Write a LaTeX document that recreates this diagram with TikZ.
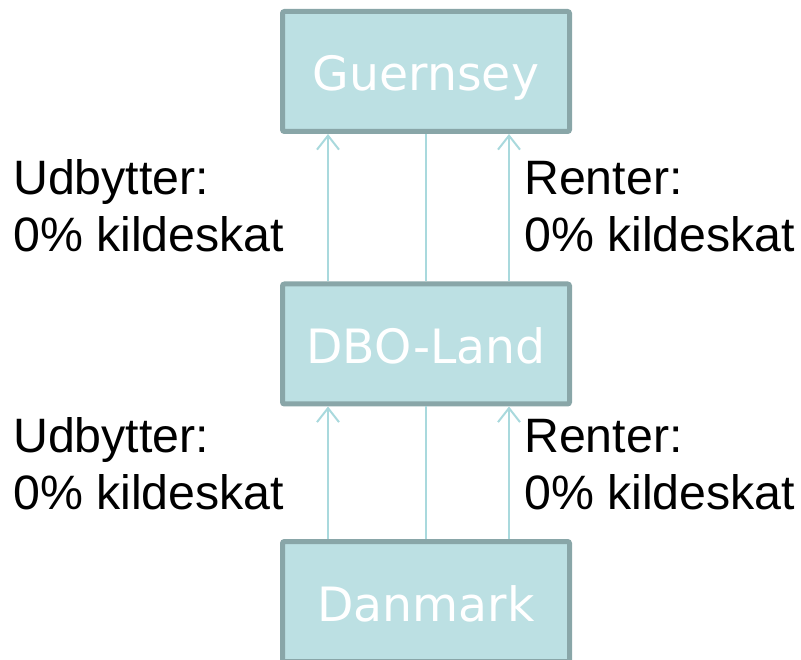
\documentclass[tikz,border=0pt]{standalone}
\usepackage{fontspec}
\setmainfont{Liberation Sans}
\newfontfamily\boxfont{DejaVu Sans}
\usepackage{tikz}
\usetikzlibrary{arrows.meta}

\definecolor{boxfill}{HTML}{BCE0E3}
\definecolor{boxline}{HTML}{89A6A8}
\definecolor{flowline}{HTML}{A9D9DD}

\begin{document}
\begin{tikzpicture}[x=1pt,y=-1pt]
    \tikzstyle{land}=[rectangle,rounded corners=2pt,fill=boxfill,draw=boxline,line width=5pt,minimum width=287pt,minimum height=120pt,inner sep=0pt,text height=44pt,text depth=5pt,text=white,font=\boxfont\fontsize{47.3}{56}\selectfont]
    \tikzstyle{flow}=[draw=flowline,line width=2pt]
    \tikzstyle{annot}=[align=left,inner sep=0pt,anchor=base west,font=\fontsize{48.3}{57}\selectfont]

    \useasboundingbox (0,0) rectangle (801,660);

    % Draw the countries
    \node[land] (G) at (426,71.5) {Guernsey};
    \node[land] (DBO) at (426,344) {DBO-Land};
    \node[land] (DK) at (426,601.5) {Danmark};

    % Connect each country with the one above it
    \foreach \source / \dest in {DK/DBO,DBO/G}
    {
        \path[flow,-{Straight Barb[length=14pt,width=22pt]}] ([xshift=-98pt]\source.north) -- ([xshift=-98pt]\dest.south);
        \path[flow] (\source.north) -- (\dest.south);
        \path[flow,-{Straight Barb[length=14pt,width=22pt]}] ([xshift=83pt]\source.north) -- ([xshift=83pt]\dest.south);
    }

    % Annotate the payments (base = last line)
    \node[annot] (ud1) at (13,252) {Udbytter:\\0\% kildeskat};
    \node[annot] (re1) at (524,252) {Renter:\\0\% kildeskat};
    \node[annot] (ud2) at (13,509) {Udbytter:\\0\% kildeskat};
    \node[annot] (re2) at (524,509) {Renter:\\0\% kildeskat};
\end{tikzpicture}
\end{document}
